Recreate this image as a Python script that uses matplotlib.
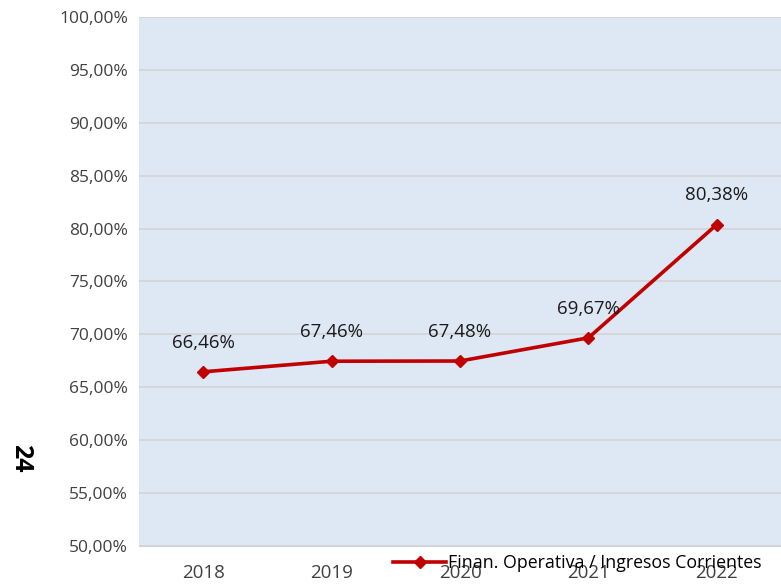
import matplotlib.pyplot as plt

years = ["2018", "2019", "2020", "2021", "2022"]
ratio = [66.46, 67.46, 67.48, 69.67, 80.38]
labels = ["66,46%", "67,46%", "67,48%", "69,67%", "80,38%"]
yticks = [50, 55, 60, 65, 70, 75, 80, 85, 90, 95, 100]
series_name = "Finan. Operativa / Ingresos Corrientes"

plt.rcParams['font.family'] = ['Open Sans', 'DejaVu Sans']

fig = plt.figure(figsize=(7.81, 5.87), dpi=100)
ax = fig.add_axes([0.178, 0.070, 0.822, 0.901])
ax.set_facecolor("#DDE8F4")

x = list(range(len(years)))
ax.plot(x, ratio, color="#C00000", lw=2.6, marker="D", ms=6, zorder=3,
        label=series_name)
for xi, yi, t in zip(x, ratio, labels):
    ax.annotate(t, (xi, yi), xytext=(0, 21), textcoords="offset points",
                ha="center", va="center", fontsize=13.5, color="#1a1a1a")

ax.set_xlim(-0.5, 4.5)
ax.set_ylim(50, 100)
ax.set_yticks(yticks)
ax.set_yticklabels([f"{v},00%" for v in yticks], fontsize=12.5, color="#404040")
ax.set_xticks(x)
ax.set_xticklabels(years, fontsize=13.5, color="#404040")
ax.tick_params(length=0, pad=8)
ax.tick_params(axis="x", pad=13)
ax.grid(axis="y", color="#D3D3D3", lw=1.2)
ax.set_axisbelow(True)
for s in ["top", "right", "left"]:
    ax.spines[s].set_visible(False)
ax.spines["bottom"].set_color("#D3D3D3")

ax.legend(loc="upper left", bbox_to_anchor=(0.393, -0.012), frameon=False,
          fontsize=12.8, handlelength=3.0, handletextpad=0.1,
          borderaxespad=0, borderpad=0.1)

fig.text(0.026, 0.22, "24", rotation=-90, fontsize=18, fontweight="bold",
         ha="center", va="center")

plt.savefig("out.png", facecolor="white")
